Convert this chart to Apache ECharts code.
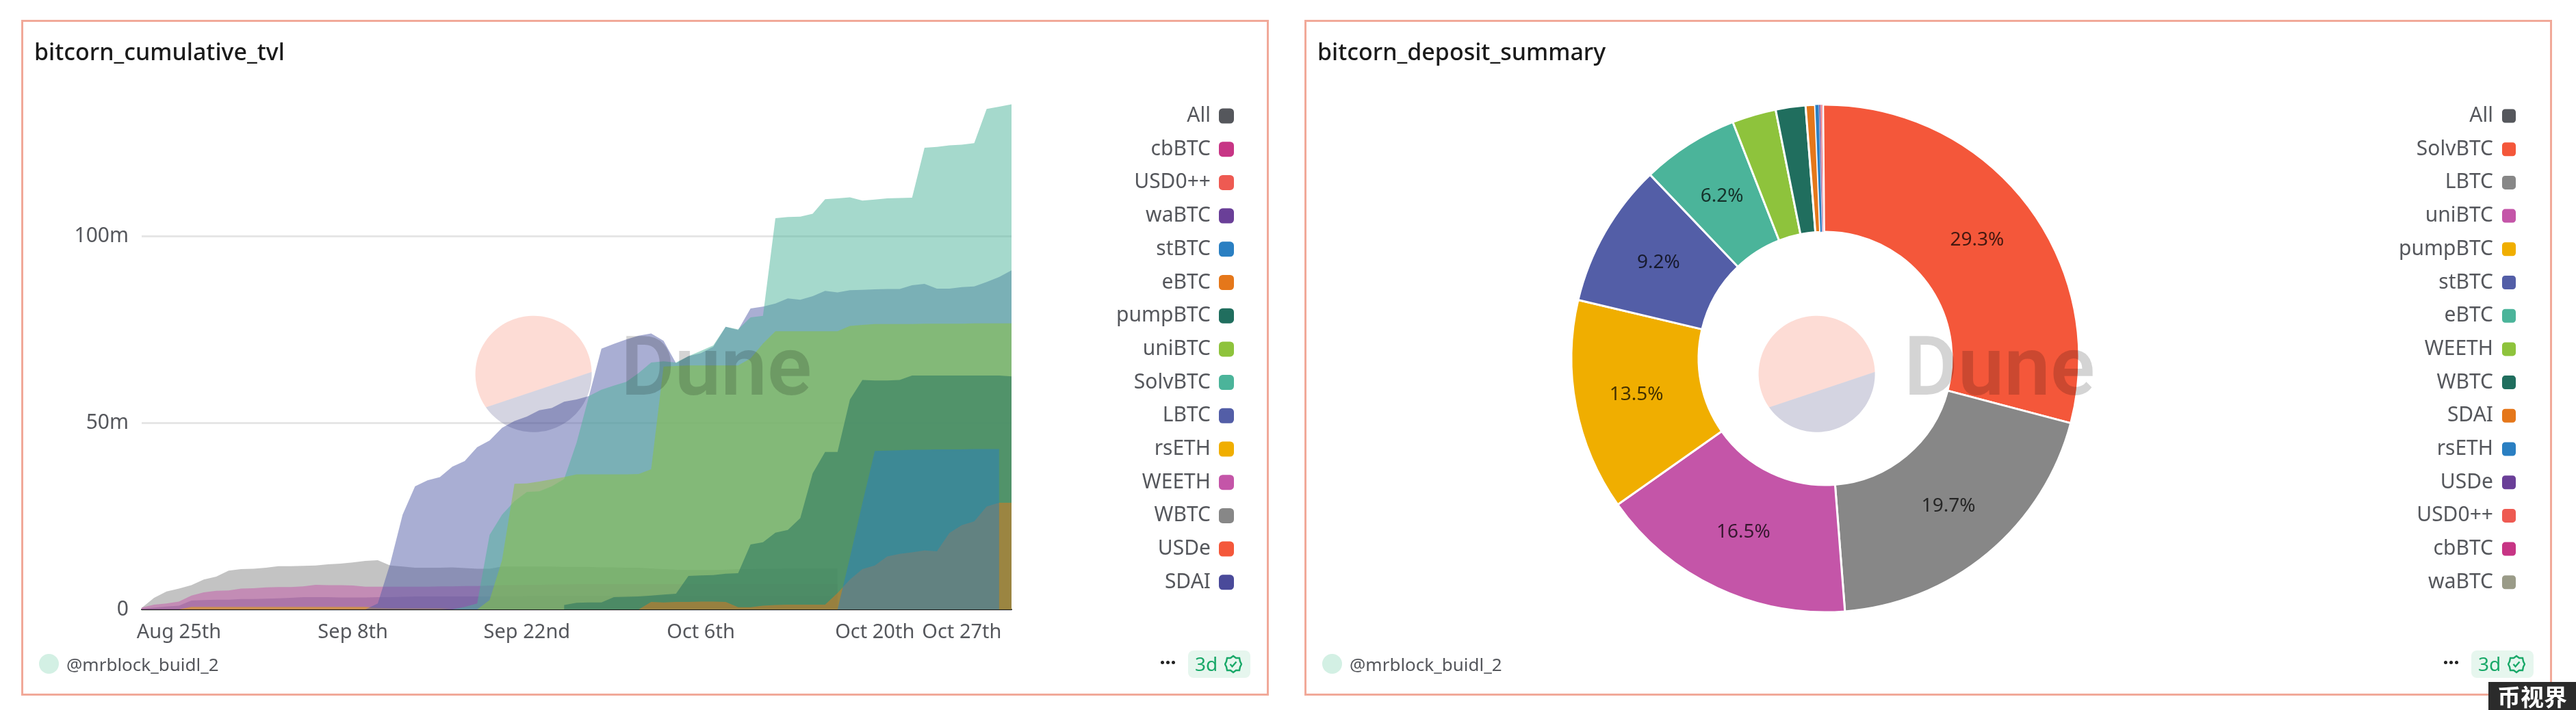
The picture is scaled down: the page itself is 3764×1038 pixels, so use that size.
<!DOCTYPE html>
<html>
<head>
<meta charset="utf-8">
<title>bitcorn</title>
<script src="https://cdn.jsdelivr.net/npm/echarts@6/dist/echarts.min.js"></script>
<style>
html, body { margin: 0; padding: 0; background: #fff; width: 3764px; height: 1038px; overflow: hidden; font-family: "Noto Sans", sans-serif; }
.panel { position: absolute; top: 29px; width: 1823px; height: 988px; box-sizing: border-box; border: 3px solid #f1a999; background: #fff; }
.chart { position: absolute; left: -3px; top: -3px; width: 1823px; height: 988px; }
.title { position: absolute; left: 16px; top: 23px; font-size: 34px; font-weight: 500; line-height: 40px; color: #1a1a1a; z-index: 2; }
.dot { position: absolute; left: 23px; top: 924px; width: 29px; height: 29px; border-radius: 50%; background: #d3f0e4; }
.author { position: absolute; left: 63px; top: 921px; font-size: 26px; line-height: 36px; color: #55575c; }
.more { position: absolute; left: 1662px; top: 934px; display: flex; gap: 3px; }
.more i { width: 5px; height: 5px; border-radius: 50%; background: #222; display: block; }
.badge { position: absolute; left: 1702px; top: 919px; width: 91px; height: 40px; border-radius: 8px; background: #e6f6ee; color: #18a868; font-size: 28px; line-height: 40px; }
.badge span { position: absolute; left: 10px; top: -1px; }
.badge svg { position: absolute; left: 53px; top: 6px; }
.stamp { position: absolute; left: 3636px; top: 997px; width: 128px; height: 41px; background: #2b2b2b; color: #fff; font: 700 34px/41px "Noto Sans CJK SC", sans-serif; text-align: center; letter-spacing: 0; z-index: 3; }
</style>
</head>
<body>
<div class="panel" style="left:31px">
    <div id="tvl" class="chart"></div>
    <div class="title">bitcorn_cumulative_tvl</div>
    <div class="dot"></div><div class="author">@mrblock_buidl_2</div>
    <div class="more"><i></i><i></i><i></i></div>
    <div class="badge"><span>3d</span><svg width="26" height="28" viewBox="0 0 26 28" fill="none" stroke="#18a868" stroke-width="2.4"><path d="M13 2l4 3 5 0 1 5 2 4-2 4-1 5-5 0-4 3-4-3-5 0-1-5-2-4 2-4 1-5 5 0z"/><path d="M8.5 14l3 3.5 6-7"/></svg></div>
</div>
<div class="panel" style="left:1906px">
    <div id="deposit" class="chart"></div>
    <div class="title">bitcorn_deposit_summary</div>
    <div class="dot"></div><div class="author">@mrblock_buidl_2</div>
    <div class="more"><i></i><i></i><i></i></div>
    <div class="badge"><span>3d</span><svg width="26" height="28" viewBox="0 0 26 28" fill="none" stroke="#18a868" stroke-width="2.4"><path d="M13 2l4 3 5 0 1 5 2 4-2 4-1 5-5 0-4 3-4-3-5 0-1-5-2-4 2-4 1-5 5 0z"/><path d="M8.5 14l3 3.5 6-7"/></svg></div>
</div>
<div class="stamp">币视界</div>

<script>
var dates = ['Aug 22nd','Aug 23rd','Aug 24th','Aug 25th','Aug 26th','Aug 27th','Aug 28th','Aug 29th','Aug 30th','Aug 31st',
    'Sep 1st','Sep 2nd','Sep 3rd','Sep 4th','Sep 5th','Sep 6th','Sep 7th','Sep 8th','Sep 9th','Sep 10th',
    'Sep 11th','Sep 12th','Sep 13th','Sep 14th','Sep 15th','Sep 16th','Sep 17th','Sep 18th','Sep 19th','Sep 20th',
    'Sep 21st','Sep 22nd','Sep 23rd','Sep 24th','Sep 25th','Sep 26th','Sep 27th','Sep 28th','Sep 29th','Sep 30th',
    'Oct 1st','Oct 2nd','Oct 3rd','Oct 4th','Oct 5th','Oct 6th','Oct 7th','Oct 8th','Oct 9th','Oct 10th',
    'Oct 11th','Oct 12th','Oct 13th','Oct 14th','Oct 15th','Oct 16th','Oct 17th','Oct 18th','Oct 19th','Oct 20th',
    'Oct 21st','Oct 22nd','Oct 23rd','Oct 24th','Oct 25th','Oct 26th','Oct 27th','Oct 28th','Oct 29th','Oct 30th','Oct 31st'];
var xTickLabels = ['Aug 25th', 'Sep 8th', 'Sep 22nd', 'Oct 6th', 'Oct 20th', 'Oct 27th'];
var n = null;

// tvl in millions, one value per day
var sdaiTvl = [.2,.5,.8,1,2.4,2.5,2.6,2.6,2.8,2.8,2.9,3,3.1,3.3,3.3,3.3,3.2,3.2,3.2,3.3,3.3,3.4,3.5,3.5,3.5,3.5,3.5,3.5,3.5,3.5,3.5,3.6,3.6,3.6,3.6,3.6,3.6,3.6,3.6,3.7,3.7,3.7,3.7,3.7,3.7,3.7,3.7,3.7,3.7,3.7,3.7,3.7,3.7,3.7,3.7,3.7,3.7];
var wbtcTvl = [.4,3.1,4.8,5.6,6.5,8,8.8,10.4,10.8,10.9,11.2,11.6,11.6,11.7,11.8,12.1,12.3,12.6,13,13.2,11.8,11.5,11.2,11.2,11.2,11.3,11.1,10.9,10.9,11.5,11.5,11.5,11.5,11.5,11.4,11.4,11.4,11.3,11.3,11.2,11.2,11,10.8,10.7,10.6,10.6,10.6,10.7,10.8,10.8,10.9,10.9,11,11,11,11,11];
var weethTvl = [.5,1.3,1.6,2.1,3.7,4.6,5,5.1,5.6,5.7,5.9,6,6,6.2,6.6,6.5,6.5,6.4,6.1,6.1,6.1,6.1,6.1,6.1,6.2,6.2,6.3,6.3,6.4,6.5,6.5,6.6,6.6,6.7,6.7,6.8,6.8,6.8,6.8,6.8,6.8,6.8,6.8,6.8,6.8,6.8,6.8,6.8,6.8,6.8,6.8,6.8,6.8,6.8,6.8,6.8,6.8];
var rsethTvl = [n,n,n,0,.7,.7,.7,.7,.7,.7,.7,.7,.7,.7,.7,.7,.7,.7,.7,.4,.3,.3,.3,.3,.3,.3];
var lbtcTvl = [n,n,n,n,n,n,n,n,n,n,n,n,n,n,n,n,n,n,0,1.6,12.3,25.4,33,34.6,35.5,38.3,39.8,43.5,45.3,48.7,50.5,51.7,53.4,54,55.7,56.3,57.2,69.9,71.2,72.4,73.4,74,72,66,67.9,68.7,70.4,75.8,74.9,80.7,81.2,82,83.4,83,84,85.4,85,85.6,85.7,85.8,85.9,85.9,86.9,87.3,86,86,86.4,86.6,87.8,89.1,90.9];
var solvbtcTvl = [n,n,n,n,n,n,n,n,n,n,n,n,n,n,n,n,n,n,n,n,n,n,n,n,n,0,.7,1.6,20,25.4,29,31.5,31.7,33,35,44.7,57.2,58.9,60,61,63.4,66.2,66.5,66.2,67.9,69.3,70.8,75.8,75.1,78.3,78.7,104.9,105.2,105.3,106.1,110,110.2,110.5,109.6,109.9,110.2,110.3,110.4,123.8,124,124.4,124.6,125,134.2,134.8,135.4];
var unibtcTvl = [n,n,n,n,n,n,n,n,n,n,n,n,n,n,n,n,n,n,n,n,n,n,n,n,n,n,n,0,2.5,13.2,33.7,33.8,34.3,34.9,35.5,36.2,36.2,36.2,36.2,36.2,36.3,37.6,65.1,65.3,65.4,65.4,65.4,65.4,65.4,67.3,71.3,74.6,74.6,74.6,74.6,74.6,74.6,76,76.3,76.5,76.5,76.5,76.5,76.6,76.6,76.6,76.6,76.7,76.7,76.7,76.7];
var pumpbtcTvl = [n,n,n,n,n,n,n,n,n,n,n,n,n,n,n,n,n,n,n,n,n,n,n,n,n,n,n,n,n,n,n,n,n,n,1.2,1.8,1.9,1.9,3.3,3.4,3.5,3.7,4,4.2,9,9.1,9.2,9.6,9.7,17.4,18,20.6,21.3,24.5,36.5,42.2,42.2,56.3,61.5,61.4,61.4,61.5,62.7,62.7,62.7,62.7,62.7,62.7,62.7,62.7,62.5];
var ebtcTvl = [n,n,n,n,n,n,n,n,n,n,n,n,n,n,n,n,n,n,n,n,n,n,n,n,n,n,n,n,n,n,n,n,n,n,n,n,n,n,n,n,0,2,1.9,2,2,2.1,2.1,2,.6,.6,1,1.2,1.3,1.3,1.3,1.3,4.4,8,10.8,11.8,14.2,14.9,15.3,15.8,15.6,20.5,22.6,23.6,27.6,28.6,28.6];
var stbtcTvl = [n,n,n,n,n,n,n,n,n,n,n,n,n,n,n,n,n,n,n,n,n,n,n,n,n,n,n,n,n,n,n,n,n,n,n,n,n,n,n,n,n,n,n,n,n,n,n,n,n,n,n,n,n,n,n,n,0,14,28.5,42.5,42.6,42.7,42.8,42.8,42.9,42.9,42.9,43,43,43];
// too small to read in the picture
var usdeTvl = [];
var wabtcTvl = [];
var usd0Tvl = [];
var cbbtcTvl = [];

var tvlNames = ['SDAI', 'USDe', 'WBTC', 'WEETH', 'rsETH', 'LBTC', 'SolvBTC', 'uniBTC', 'pumpBTC', 'eBTC', 'stBTC', 'waBTC', 'USD0++', 'cbBTC', 'All'];
var tvlValues = [sdaiTvl, usdeTvl, wbtcTvl, weethTvl, rsethTvl, lbtcTvl, solvbtcTvl, unibtcTvl, pumpbtcTvl, ebtcTvl, stbtcTvl, wabtcTvl, usd0Tvl, cbbtcTvl, []];
var tvlColors = ['#4a4a9a', '#f4573a', '#878787', '#c455a8', '#f0ae00', '#535ea7', '#4bb49a', '#8ec33c', '#206e5e', '#e5771a', '#2a7fc2', '#6a3f98', '#ee5a52', '#c73585', '#55575c'];
var yTicks = ['0', '50m', '100m'];

var depositNames = ['SolvBTC', 'LBTC', 'uniBTC', 'pumpBTC', 'stBTC', 'eBTC', 'WEETH', 'WBTC', 'SDAI', 'rsETH', 'USDe', 'USD0++', 'cbBTC', 'waBTC', 'All'];
var depositShares = [29.3, 19.7, 16.5, 13.5, 9.2, 6.2, 2.8, 1.9, 0.6, 0.25, 0.1, 0.08, 0.05, 0.02, 0];
var depositColors = ['#f4573a', '#878787', '#c455a8', '#f0ae00', '#535ea7', '#4bb49a', '#8ec33c', '#206e5e', '#e5771a', '#2a7fc2', '#6a3f98', '#ee5a52', '#c73585', '#9a9b88', '#55575c'];

var textColor = '#55575c';
var fontName = '"Noto Sans", sans-serif';

function arcPoints(from, to) {
    var cx = 748.6, cy = 517.7, r = 85, pts = [];
    for (var a = from; a <= to; a += 3) {
        pts.push([cx + r * Math.cos(a * Math.PI / 180), cy + r * Math.sin(a * Math.PI / 180)]);
    }
    return pts;
}

// the logo and word laid over each chart
function watermark() {
    return [
        { type: 'polygon', silent: true, z: 100, shape: { points: arcPoints(145, 358) }, style: { fill: '#f4603e', opacity: 0.22 } },
        { type: 'polygon', silent: true, z: 100, shape: { points: arcPoints(-2, 145) }, style: { fill: '#282869', opacity: 0.2 } },
        { type: 'text', silent: true, z: 100, left: 876, top: 457, style: { text: 'Dune', fill: '#000', opacity: 0.17, font: '600 121px Roboto, sans-serif' } }
    ];
}

function legendOption(names) {
    return {
        orient: 'vertical',
        right: 51,
        top: 125.5,
        padding: 0,
        align: 'right',
        icon: 'roundRect',
        itemWidth: 22,
        itemHeight: 22,
        itemGap: 18.7,
        selectedMode: false,
        data: names,
        itemStyle: { opacity: 1 },
        textStyle: { color: textColor, fontFamily: fontName, fontSize: 30, padding: [0, 7, 0, 0] }
    };
}

function initTvl() {
    var chart = echarts.init(document.getElementById('tvl'));
    var series = [];
    for (var i = 0; i < tvlNames.length; i++) {
        series.push({
            name: tvlNames[i],
            type: 'line',
            data: tvlValues[i],
            showSymbol: false,
            silent: true,
            itemStyle: { color: tvlColors[i] },
            lineStyle: { width: 0 },
            areaStyle: { color: tvlColors[i], opacity: 0.5 }
        });
    }
    chart.setOption({
        animation: false,
        backgroundColor: 'transparent',
        grid: { left: 176, top: 44, width: 1271, height: 818 },
        legend: legendOption(tvlNames.slice().reverse()),
        graphic: watermark(),
        xAxis: {
            type: 'category',
            data: dates,
            boundaryGap: false,
            axisTick: { show: false },
            axisLine: { lineStyle: { color: '#1a1a1a', width: 2 } },
            splitLine: { show: false },
            axisLabel: {
                color: textColor,
                fontFamily: fontName,
                fontSize: 29,
                margin: 19,
                interval: function (index, value) { return xTickLabels.indexOf(value) >= 0; }
            }
        },
        yAxis: {
            type: 'value',
            min: 0,
            max: 150,
            interval: 50,
            axisLine: { show: false },
            axisTick: { show: false },
            splitLine: { showMaxLine: false, lineStyle: { color: '#e6e6e6', width: 3 } },
            axisLabel: {
                color: textColor,
                fontFamily: fontName,
                fontSize: 30,
                margin: 19,
                showMaxLabel: false,
                formatter: function (v) { return yTicks[v / 50] || ''; }
            }
        },
        series: series
    });
}

function initDeposit() {
    var chart = echarts.init(document.getElementById('deposit'));
    var data = [];
    for (var i = 0; i < depositNames.length; i++) {
        data.push({
            name: depositNames[i],
            value: depositShares[i],
            itemStyle: { color: depositColors[i], borderColor: '#fff', borderWidth: depositShares[i] < 0.5 ? 0.5 : 3 }
        });
    }
    chart.setOption({
        animation: false,
        backgroundColor: 'transparent',
        legend: legendOption(['All'].concat(depositNames.slice(0, -1))),
        graphic: watermark(),
        series: [{
            type: 'pie',
            center: [761, 495],
            radius: [185, 371],
            startAngle: 90.5,
            silent: true,
            avoidLabelOverlap: false,
            data: data,
            labelLine: { show: false },
            label: {
                position: 'inside',
                color: 'rgba(0,0,0,0.72)',
                fontFamily: fontName,
                fontSize: 28,
                formatter: function (p) { return p.value >= 5 ? p.value.toFixed(1) + '%' : ''; }
            }
        }]
    });
}

initTvl();
initDeposit();
</script>
</body>
</html>
